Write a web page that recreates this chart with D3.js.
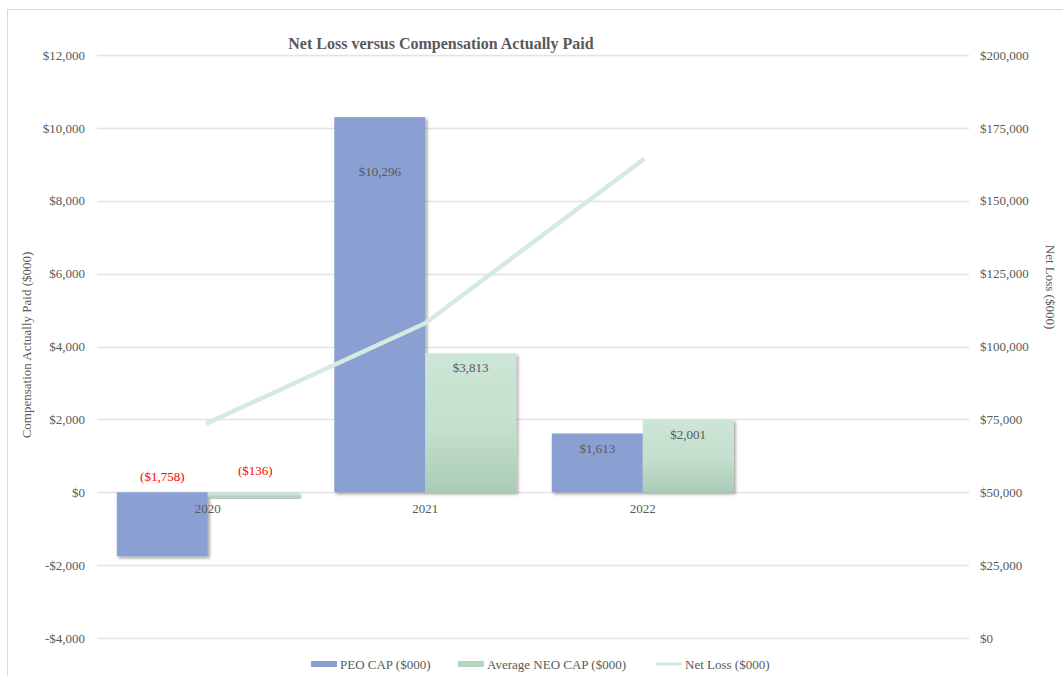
<!DOCTYPE html>
<html>
<head>
<meta charset="utf-8">
<script src="https://cdn.jsdelivr.net/npm/d3@7"></script>
<style>
  body { margin: 0; background: #fff; }
  text { font-family: "Liberation Serif", "Times New Roman", serif; }
</style>
</head>
<body>
<div id="area"></div>
<script>
'use strict';

// chart data
const years = ["2020", "2021", "2022", ""];
const peoCap = [-1758, 10296, 1613];
const neoCap = [-136, 3813, 2001];
const netLoss = [73800, 108000, 164000];
const leftTicks = [-4000, -2000, 0, 2000, 4000, 6000, 8000, 10000, 12000];
const rightTicks = [0, 25000, 50000, 75000, 100000, 125000, 150000, 175000, 200000];
const peoLabels = ["($1,758)", "$10,296", "$1,613"];
const neoLabels = ["($136)", "$3,813", "$2,001"];

const W = 1063, H = 676;
const grey = "#595959";

const svg = d3.select('#area').append('svg').attr('width', W).attr('height', H);

// shadow + gradient defs
const defs = svg.append('defs');
const sh = defs.append('filter').attr('id', 'shadow').attr('x', '-10%').attr('y', '-10%').attr('width', '130%').attr('height', '130%');
sh.append('feDropShadow').attr('dx', 2).attr('dy', 2).attr('stdDeviation', 1.6)
  .attr('flood-color', '#000').attr('flood-opacity', 0.35);
const grad = defs.append('linearGradient').attr('id', 'neoGrad').attr('x1', 0).attr('y1', 0).attr('x2', 0).attr('y2', 1);
grad.append('stop').attr('offset', '0%').attr('stop-color', '#cde6d7');
grad.append('stop').attr('offset', '55%').attr('stop-color', '#c3dfcd');
grad.append('stop').attr('offset', '100%').attr('stop-color', '#a9cbb4');

// outer frame
svg.append('rect').attr('x', 7.5).attr('y', 9.5).attr('width', W).attr('height', H)
  .attr('fill', 'none').attr('stroke', '#d9d9d9');

// scales
const x = d3.scaleBand().domain(years).range([99, 969]);
const yL = d3.scaleLinear().domain([-4000, 12000]).range([638, 55]);
const yR = d3.scaleLinear().domain([0, 200000]).range([638, 55]);

// gridlines
svg.append('g').selectAll('line').data(leftTicks).join('line')
  .attr('x1', 97).attr('x2', 969)
  .attr('y1', d => Math.round(yL(d)) + 0.5).attr('y2', d => Math.round(yL(d)) + 0.5)
  .attr('stroke', '#e3e3e3').attr('stroke-width', 1.3);

// axes (text only)
const fmt = d3.format(',');
const money = d => (d < 0 ? '-$' : '$') + fmt(Math.abs(d));
const axL = svg.append('g').attr('transform', 'translate(88,0)')
  .call(d3.axisLeft(yL).tickValues(leftTicks).tickFormat(money).tickSize(0));
const axR = svg.append('g').attr('transform', 'translate(977,0)')
  .call(d3.axisRight(yR).tickValues(rightTicks).tickFormat(money).tickSize(0));
[axL, axR].forEach(a => {
  a.select('.domain').remove();
  a.selectAll('text').attr('fill', grey).attr('font-size', 13)
    .attr('font-family', '"Liberation Serif", serif');
});

// bars
const half = x.bandwidth() * 0.8365 / 2;
const bars = svg.append('g');
bars.selectAll('rect.peo').data(peoCap).join('rect').attr('class', 'peo')
  .attr('x', (d, i) => x(years[i]) + x.bandwidth() / 2 - half)
  .attr('width', half)
  .attr('y', d => yL(Math.max(0, d)))
  .attr('height', d => Math.abs(yL(d) - yL(0)))
  .attr('fill', '#8aa0d2').attr('filter', 'url(#shadow)');
bars.selectAll('rect.neo').data(neoCap).join('rect').attr('class', 'neo')
  .attr('x', (d, i) => x(years[i]) + x.bandwidth() / 2)
  .attr('width', half)
  .attr('y', d => yL(Math.max(0, d)))
  .attr('height', d => Math.max(3, Math.abs(yL(d) - yL(0))))
  .attr('fill', 'url(#neoGrad)').attr('filter', 'url(#shadow)');

// category labels
svg.append('g').selectAll('text').data(years).join('text')
  .attr('x', d => x(d) + x.bandwidth() / 2).attr('y', 513)
  .attr('text-anchor', 'middle').attr('font-size', 13).attr('fill', grey)
  .text(d => d);

// net loss line
svg.append('path')
  .datum(netLoss)
  .attr('d', d3.line().x((d, i) => x(years[i]) + x.bandwidth() / 2).y(d => yR(d)))
  .attr('fill', 'none').attr('stroke', '#d5eae1').attr('stroke-width', 4.5)
  .attr('stroke-linecap', 'round');

// data labels
const peoLabelY = [481, 176, 453];
const neoLabelY = [475, 372, 439];
const lbl = svg.append('g').attr('font-size', 13).attr('text-anchor', 'middle');
lbl.selectAll('text.peo').data(peoCap).join('text')
  .attr('x', (d, i) => x(years[i]) + x.bandwidth() / 2 - half / 2)
  .attr('y', (d, i) => peoLabelY[i])
  .attr('fill', d => d < 0 ? '#ff0000' : grey)
  .text((d, i) => peoLabels[i]);
lbl.selectAll('text.neo').data(neoCap).join('text')
  .attr('x', (d, i) => x(years[i]) + x.bandwidth() / 2 + half / 2 + (d < 0 ? 2 : 0))
  .attr('y', (d, i) => neoLabelY[i])
  .attr('fill', d => d < 0 ? '#ff0000' : grey)
  .text((d, i) => neoLabels[i]);

// title
svg.append('text').attr('x', 441).attr('y', 49).attr('text-anchor', 'middle')
  .attr('font-size', 16).attr('font-weight', 'bold').attr('fill', grey)
  .text('Net Loss versus Compensation Actually Paid');

// axis titles
svg.append('text').attr('transform', 'translate(31,345) rotate(-90)')
  .attr('text-anchor', 'middle').attr('font-size', 13).attr('fill', grey)
  .text('Compensation Actually Paid ($000)');
svg.append('text').attr('transform', 'translate(1046,287) rotate(90)')
  .attr('text-anchor', 'middle').attr('font-size', 13).attr('fill', grey)
  .text('Net Loss ($000)');

// legend
const legend = [
  { name: 'PEO CAP ($000)', x: 311, type: 'bar', fill: '#8aa0d2' },
  { name: 'Average NEO CAP ($000)', x: 458, type: 'bar', fill: '#b5d6c0' },
  { name: 'Net Loss ($000)', x: 656, type: 'line', fill: '#d5eae1' }
];
const lg = svg.append('g');
legend.forEach(l => {
  if (l.type === 'bar') {
    lg.append('rect').attr('x', l.x).attr('y', 661).attr('width', 26).attr('height', 6).attr('fill', l.fill);
  } else {
    lg.append('line').attr('x1', l.x).attr('x2', l.x + 26).attr('y1', 664).attr('y2', 664)
      .attr('stroke', l.fill).attr('stroke-width', 3);
  }
  lg.append('text').attr('x', l.x + 29).attr('y', 669).attr('font-size', 13).attr('fill', grey).text(l.name);
});
</script>
</body>
</html>
